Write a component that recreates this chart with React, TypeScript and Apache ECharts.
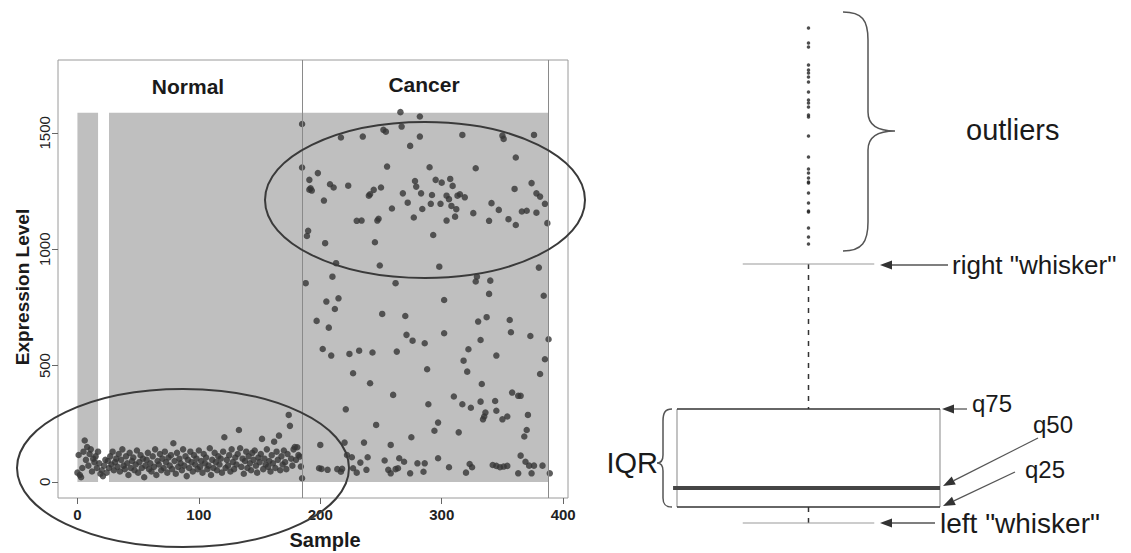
import React, { useEffect, useRef } from "react";
import * as echarts from "echarts";

const FONT = "'Liberation Sans', Arial, Helvetica, sans-serif";

// ---------- left panel data ----------
const groupLabels = ["Normal", "Cancer"];
const xTicks = [0, 100, 200, 300, 400];
const yTicks = [0, 500, 1000, 1500];
const shadedRanges = [
  [0, 17],
  [26, 388],
];
const shadeTop = 1586;
const groupBoundaries = [185, 388];

// expression of normal samples, sample index = position (0..185)
const normalValues = [
  40, 116, 30, 20, 60, 130, 178, 95, 150, 70, 120, 140, 45, 100, 85, 110, 60, 130, 80, 35,
  50, 25, 70, 95, 40, 90, 60, 110, 75, 130, 50, 85, 100, 65, 120, 45, 95, 140, 70, 55,
  110, 80, 30, 125, 60, 90, 105, 50, 75, 135, 40, 85, 115, 60, 100, 20, 70, 95, 125, 55,
  80, 45, 110, 65, 140, 30, 90, 75, 120, 50, 100, 60, 130, 85, 40, 105, 70, 115, 55, 166,
  90, 35, 125, 65, 100, 80, 50, 140, 70, 110, 25, 95, 60, 130, 85, 45, 115, 75, 100, 55,
  135, 65, 90, 40, 120, 80, 105, 55, 70, 145, 30, 95, 60, 125, 85, 50, 110, 75, 100, 40,
  130, 192, 60, 95, 70, 115, 45, 140, 85, 55, 105, 75, 120, 223, 145, 65, 100, 35, 90, 130,
  60, 110, 80, 50, 125, 95, 135, 70, 40, 105, 85, 120, 185, 55, 100, 75, 140, 65, 90, 45,
  115, 80, 173, 60, 130, 95, 199, 50, 110, 75, 135, 85, 55, 120, 288, 241, 100, 70, 140, 150,
  95, 149, 116, 109, 66, 16,
];

// cancer samples (sample index, expression)
const cancerSamples = [
  266, 282, 185, 267, 252, 254, 217, 235, 282, 274, 185, 255, 198, 191, 192, 193, 191, 208, 211, 223,
  203, 244, 241, 240, 250, 278, 279, 268, 283, 272, 259, 284, 230, 234, 247, 248, 277, 190, 189, 204,
  245, 213, 249, 210, 188, 262,
  317, 350, 351, 376, 361, 290, 328, 295, 300, 307, 309, 292, 304, 306, 313, 315, 319, 360, 374, 378,
  381, 385, 291, 299, 308, 312, 311, 304, 326, 341, 347, 339, 355, 361, 366, 370, 378, 387, 293, 298,
  380, 329, 328, 340, 339, 384,
  205, 215, 212, 197, 207, 251, 270, 271, 276, 286, 202, 209, 224, 232, 243, 263, 227, 241, 260, 221,
  246, 275, 200, 220, 236, 258, 222, 226, 239, 253, 265, 269, 280, 286, 233, 199, 201, 206, 214, 218,
  217, 227, 230, 238, 256, 258, 262, 264, 274, 285,
  302, 330, 337, 356, 357, 302, 373, 388, 332, 322, 318, 321, 345, 385, 381, 288, 333, 310, 317, 324,
  332, 344, 345, 336, 335, 334, 350, 354, 358, 363, 365, 371, 289, 297, 294, 314, 370, 368, 297, 306,
  323, 325, 320, 342, 345, 348, 351, 354, 365, 369, 372, 363, 374, 376, 383, 389,
];
const cancerValues = [
  1589, 1570, 1538, 1527, 1513, 1505, 1480, 1484, 1484, 1444, 1351, 1355, 1327, 1298, 1262, 1252, 1256, 1279, 1265, 1273,
  1209, 1255, 1236, 1230, 1265, 1293, 1269, 1240, 1240, 1200, 1175, 1173, 1122, 1123, 1123, 1131, 1136, 1079, 1057, 1026,
  1030, 940, 930, 882, 854, 854,
  1491, 1488, 1474, 1491, 1394, 1352, 1348, 1298, 1286, 1302, 1272, 1233, 1230, 1215, 1230, 1236, 1223, 1259, 1284, 1240,
  1226, 1195, 1195, 1195, 1186, 1172, 1140, 1123, 1155, 1198, 1169, 1122, 1129, 1104, 1162, 1165, 1157, 1112, 1061, 925,
  921, 882, 861, 865, 808, 800,
  775, 789, 743, 692, 663, 722, 713, 632, 607, 596, 571, 543, 550, 564, 556, 560, 467, 424, 374, 312,
  245, 192, 159, 169, 169, 159, 116, 106, 106, 92, 102, 87, 80, 80, 83, 59, 56, 52, 55, 56,
  44, 59, 40, 52, 52, 37, 55, 59, 37, 44,
  782, 689, 708, 696, 643, 639, 627, 613, 610, 570, 521, 474, 543, 527, 464, 484, 421, 367, 334, 319,
  345, 348, 306, 298, 281, 269, 269, 281, 384, 370, 370, 288, 334, 255, 220, 213, 223, 195, 102, 63,
  77, 63, 40, 73, 69, 63, 66, 69, 113, 87, 70, 37, 37, 70, 70, 37,
];

// ---------- right panel (box plot illustration, arbitrary units) ----------
// [lower whisker, q25, q50, q75, upper whisker]
const boxStats = [30, 46, 65, 144, 289];
const outlierValues = [
  525, 510, 506, 488, 483, 480, 476, 471, 461, 453, 450, 446, 438, 436, 417, 396, 384, 380, 375, 371,
  370, 360, 350, 342, 341, 325, 316, 309,
];

const BRACE_OUT =
  "M 843 12 C 862 12 868 20 868 40 L 868 112 C 868 125 878 131 895 131 C 878 131 868 137 868 150 L 868 222 C 868 242 862 251 843 251";
const BRACE_IQR =
  "M 672 409 C 665 409 663 413 663 421 L 663 455 C 663 460 661 463 657 463 C 661 463 663 466 663 471 L 663 498 C 663 504 665 507 672 507";

function arrow(x1: number, y1: number, x2: number, y2: number) {
  const dx = x2 - x1;
  const dy = y2 - y1;
  const len = Math.hypot(dx, dy);
  const ux = dx / len;
  const uy = dy / len;
  const head = 12;
  const half = 4.5;
  const bx = x2 - ux * head;
  const by = y2 - uy * head;
  const px = -uy * half;
  const py = ux * half;
  return [
    { type: "line", z: 20, shape: { x1, y1, x2: bx, y2: by }, style: { stroke: "#555", lineWidth: 1.3 } },
    {
      type: "polygon",
      z: 20,
      shape: { points: [[x2, y2], [bx + px, by + py], [bx - px, by - py]] },
      style: { fill: "#333" },
    },
  ];
}

function txt(text: string, x: number, y: number, size: number, align = "left", weight = "normal", rotation = 0) {
  return {
    type: "text",
    x,
    y,
    z: 20,
    rotation,
    style: {
      text,
      font: `${weight} ${size}px ${FONT}`,
      fill: "#1a1a1a",
      textAlign: align,
      textVerticalAlign: "middle",
      align,
      verticalAlign: "middle",
    },
  };
}

export default function App() {
  const ref = useRef<HTMLDivElement>(null);

  useEffect(() => {
    if (!ref.current) return;
    echarts.graphic.registerShape("braceOut", echarts.graphic.extendPath(BRACE_OUT, {}));
    echarts.graphic.registerShape("braceIqr", echarts.graphic.extendPath(BRACE_IQR, {}));
    const chart = echarts.init(ref.current, null, { renderer: "svg" });

    const normalData = normalValues.map((v, i) => [i, v]);
    const cancerData = cancerSamples.map((s, i) => [s, cancerValues[i]]);

    const option: any = {
      animation: false,
      backgroundColor: "#ffffff",
      textStyle: { fontFamily: FONT },
      grid: [
        {
          left: 58,
          top: 60,
          width: 510,
          height: 438,
          show: true,
          borderColor: "#9a9a9a",
          borderWidth: 1,
          backgroundColor: "transparent",
        },
        { left: 677, top: 0, width: 263, height: 553, show: false },
      ],
      xAxis: [
        {
          gridIndex: 0,
          type: "value",
          min: -16,
          max: 404,
          axisLine: { show: false, onZero: false },
          axisTick: { show: true, customValues: xTicks, length: 6, lineStyle: { color: "#666" } },
          axisLabel: {
            customValues: xTicks,
            formatter: (v: number) => String(v),
            fontSize: 15,
            fontWeight: "bold",
            color: "#222",
            margin: 9,
            fontFamily: FONT,
          },
          splitLine: { show: false },
        },
        { gridIndex: 1, type: "value", min: 0, max: 1, show: false },
      ],
      yAxis: [
        {
          gridIndex: 0,
          type: "value",
          min: -69,
          max: 1813,
          axisLine: { show: false, onZero: false },
          axisTick: { show: true, customValues: yTicks, length: 6, lineStyle: { color: "#666" } },
          axisLabel: {
            customValues: yTicks,
            formatter: (v: number) => String(v),
            rotate: 90,
            fontSize: 15,
            color: "#222",
            margin: 6,
            fontFamily: FONT,
          },
          splitLine: { show: false },
        },
        { gridIndex: 1, type: "value", min: 0, max: 553, show: false },
      ],
      series: [
        {
          type: "scatter",
          name: "shade",
          xAxisIndex: 0,
          yAxisIndex: 0,
          data: [],
          z: 1,
          silent: true,
          markArea: {
            silent: true,
            itemStyle: { color: "#bfbfbf" },
            data: shadedRanges.map(([a, b]) => [{ coord: [a, 0] }, { coord: [b, shadeTop] }]),
          },
          markLine: {
            silent: true,
            symbol: ["none", "none"],
            label: { show: false },
            lineStyle: { color: "#8a8a8a", width: 1, type: "solid" },
            data: groupBoundaries.map((x) => ({ xAxis: x })),
          },
        },
        {
          type: "scatter",
          name: groupLabels[0],
          xAxisIndex: 0,
          yAxisIndex: 0,
          z: 3,
          symbolSize: 6.5,
          itemStyle: { color: "#363636" },
          data: normalData,
        },
        {
          type: "scatter",
          name: groupLabels[1],
          xAxisIndex: 0,
          yAxisIndex: 0,
          z: 3,
          symbolSize: 6.5,
          itemStyle: { color: "#363636" },
          data: cancerData,
        },
        {
          type: "custom",
          xAxisIndex: 1,
          yAxisIndex: 1,
          z: 3,
          silent: true,
          data: [boxStats],
          renderItem: (params: any, api: any) => {
            const lw = api.value(0);
            const q1 = api.value(1);
            const med = api.value(2);
            const q3 = api.value(3);
            const uw = api.value(4);
            const c = (x: number, y: number) => api.coord([x, y]);
            const seg = (a: number[], b: number[], style: any) => ({
              type: "line",
              shape: { x1: a[0], y1: a[1], x2: b[0], y2: b[1] },
              style,
            });
            const dash = { stroke: "#333", lineWidth: 1.5, lineDash: [5, 6], fill: null };
            const thin = { stroke: "#9a9a9a", lineWidth: 1.2, fill: null };
            const dark = { stroke: "#333", lineWidth: 1.6, fill: null };
            return {
              type: "group",
              children: [
                seg(c(0.5, uw), c(0.5, q3), dash),
                seg(c(0.5, q1), c(0.5, lw), dash),
                seg(c(0.25, uw), c(0.75, uw), thin),
                seg(c(0.25, lw), c(0.75, lw), thin),
                seg(c(0, q1), c(0, q3), thin),
                seg(c(1, q1), c(1, q3), thin),
                seg(c(0, q3), c(1, q3), dark),
                seg(c(0, q1), c(1, q1), dark),
                seg(c(-0.015, med), c(1, med), { stroke: "#454545", lineWidth: 4, fill: null }),
              ],
            };
          },
        },
        {
          type: "scatter",
          name: "outliers",
          xAxisIndex: 1,
          yAxisIndex: 1,
          z: 3,
          symbolSize: 3.5,
          itemStyle: { color: "#222" },
          data: outlierValues.map((v) => [0.5, v]),
        },
      ],
      graphic: [
        {
          type: "ellipse",
          z: 15,
          shape: { cx: 183, cy: 468, rx: 166, ry: 79 },
          style: { fill: "none", stroke: "#3a3a3a", lineWidth: 2 },
        },
        {
          type: "ellipse",
          z: 15,
          shape: { cx: 425, cy: 200, rx: 160, ry: 78 },
          style: { fill: "none", stroke: "#3a3a3a", lineWidth: 2 },
        },
        txt(groupLabels[0], 188, 86, 21, "center", "bold"),
        txt(groupLabels[1], 424, 84, 21, "center", "bold"),
        txt("Expression Level", 22, 287, 19, "center", "bold", Math.PI / 2),
        txt("Sample", 325, 540, 20, "center", "bold"),
        { type: "braceOut", z: 20, x: 0, y: 0, style: { fill: "none", stroke: "#555", lineWidth: 1.5 } },
        { type: "braceIqr", z: 20, x: 0, y: 0, style: { fill: "none", stroke: "#555", lineWidth: 1.5 } },
        txt("outliers", 966, 130, 29),
        txt('right "whisker"', 952, 265, 26),
        txt("q75", 972, 403, 24),
        txt("q50", 1033, 424, 24),
        txt("q25", 1025, 469, 24),
        txt('left "whisker"', 940, 523, 28),
        txt("IQR", 658, 463, 29, "right"),
        ...arrow(948, 265, 880, 265),
        ...arrow(935, 523, 880, 523),
        ...arrow(967, 409, 942, 409),
        ...arrow(1038, 438, 943, 486),
        ...arrow(1015, 472, 943, 506),
      ],
    };

    chart.setOption(option);
    return () => chart.dispose();
  }, []);

  return (
    <div
      ref={ref}
      style={{ position: "absolute", left: 0, top: 0, width: 1131, height: 553, background: "#fff" }}
    />
  );
}
